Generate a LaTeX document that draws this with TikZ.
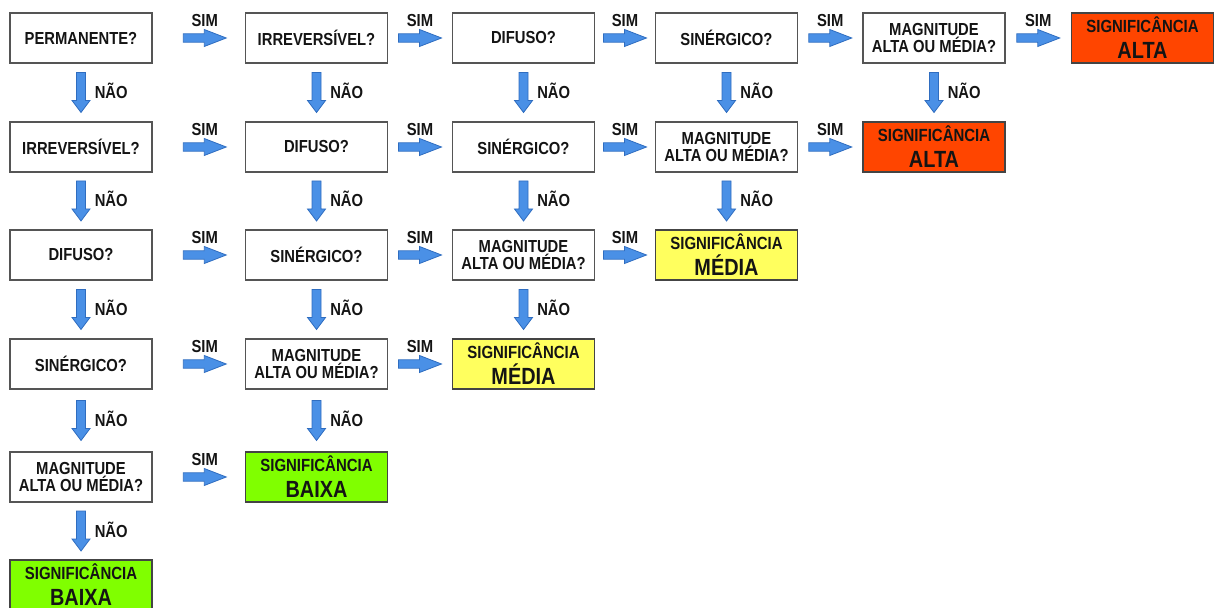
\documentclass[tikz,border=0pt]{standalone}
\usepackage{fontspec}
\newfontfamily\arl[FakeStretch=0.85]{Liberation Sans}
\usetikzlibrary{calc}
\definecolor{arrfill}{HTML}{4A90E6}
\definecolor{arrline}{HTML}{2F6DC0}
\definecolor{altared}{HTML}{FF4500}
\definecolor{medyel}{HTML}{FFFF5E}
\definecolor{baixgreen}{HTML}{80FF00}
\definecolor{boxline}{HTML}{555555}
\definecolor{txt}{HTML}{141414}
\tikzset{
  qbox/.style={draw=boxline, line width=0.6pt, fill=white, minimum width=71pt, minimum height=25pt,
    inner sep=0pt, align=center, text=txt, font=\arl\bfseries\fontsize{8.7}{7.6}\selectfont},
  sbox/.style={draw=boxline!80!black, line width=0.6pt, fill=#1, minimum width=71pt, minimum height=25pt,
    inner sep=0pt, align=center, text=txt, font=\arl\bfseries\fontsize{8.8}{13}\selectfont},
  arrowsty/.style={draw=arrline, fill=arrfill, line width=0.4pt, line join=miter},
  simlbl/.style={anchor=base, inner sep=0pt, text=txt, font=\arl\bfseries\fontsize{8.7}{9}\selectfont},
  naolbl/.style={anchor=base west, inner sep=0pt, text=txt, font=\arl\bfseries\fontsize{8.7}{9}\selectfont}
}
\newcommand\rarrow[3][0pt]{%
 \filldraw[arrowsty] let \p1=(#2.east), \p2=(#3.west) in
 ({(\x1+\x2)/2+#1-10.75pt},{\y1+2.1pt}) -- ({(\x1+\x2)/2+#1-0.25pt},{\y1+2.1pt}) --
 ({(\x1+\x2)/2+#1-0.25pt},{\y1+4.25pt}) -- ({(\x1+\x2)/2+#1+10.75pt},\y1) --
 ({(\x1+\x2)/2+#1-0.25pt},{\y1-4.25pt}) -- ({(\x1+\x2)/2+#1-0.25pt},{\y1-2.1pt}) --
 ({(\x1+\x2)/2+#1-10.75pt},{\y1-2.1pt}) -- cycle
 ({(\x1+\x2)/2+#1},{\y1+5.5pt}) node[simlbl]{SIM};}
\newcommand\darrow[2]{%
 \filldraw[arrowsty] let \p1=(#1.south), \p2=(#2.north) in
 ({\x1-2.25pt},{(\y1+\y2)/2+10pt}) -- ({\x1-2.25pt},{(\y1+\y2)/2-4pt}) --
 ({\x1-4.5pt},{(\y1+\y2)/2-4pt}) -- (\x1,{(\y1+\y2)/2-10pt}) --
 ({\x1+4.5pt},{(\y1+\y2)/2-4pt}) -- ({\x1+2.25pt},{(\y1+\y2)/2-4pt}) --
 ({\x1+2.25pt},{(\y1+\y2)/2+10pt}) -- cycle
 ({\x1+6.7pt},{(\y1+\y2)/2-3pt}) node[naolbl]{NÃO};}
\newcommand\magtxt{MAGNITUDE\\ALTA OU MÉDIA?}
\newcommand\sigtxt[1]{SIGNIFICÂNCIA\\{\fontsize{11.7}{13}\selectfont #1}}
\begin{document}
\begin{tikzpicture}[x=0.5pt, y=-0.5pt]
\useasboundingbox (0,0) rectangle (1214,608);
% column 1
\node[qbox] (a1) at (81,38) {PERMANENTE?};
\node[qbox] (a2) at (81,147) {IRREVERSÍVEL?};
\node[qbox] (a3) at (81,255) {DIFUSO?};
\node[qbox] (a4) at (81,364) {SINÉRGICO?};
\node[qbox] (a5) at (81,477) {\magtxt};
\node[sbox=baixgreen] (a6) at (81,585) {\sigtxt{BAIXA}};
% column 2
\node[qbox] (b1) at (316.5,38) {IRREVERSÍVEL?};
\node[qbox] (b2) at (316.5,147) {DIFUSO?};
\node[qbox] (b3) at (316.5,255) {SINÉRGICO?};
\node[qbox] (b4) at (316.5,364) {\magtxt};
\node[sbox=baixgreen] (b5) at (316.5,477) {\sigtxt{BAIXA}};
% column 3
\node[qbox] (c1) at (523.5,38) {DIFUSO?};
\node[qbox] (c2) at (523.5,147) {SINÉRGICO?};
\node[qbox] (c3) at (523.5,255) {\magtxt};
\node[sbox=medyel] (c4) at (523.5,364) {\sigtxt{MÉDIA}};
% column 4
\node[qbox] (d1) at (726.5,38) {SINÉRGICO?};
\node[qbox] (d2) at (726.5,147) {\magtxt};
\node[sbox=medyel] (d3) at (726.5,255) {\sigtxt{MÉDIA}};
% column 5
\node[qbox] (e1) at (934,38) {\magtxt};
\node[sbox=altared] (e2) at (934,147) {\sigtxt{ALTA}};
% column 6
\node[sbox=altared] (f1) at (1142.5,38) {\sigtxt{ALTA}};
% down arrows
\darrow{a1}{a2}\darrow{a2}{a3}\darrow{a3}{a4}\darrow{a4}{a5}\darrow{a5}{a6}
\darrow{b1}{b2}\darrow{b2}{b3}\darrow{b3}{b4}\darrow{b4}{b5}
\darrow{c1}{c2}\darrow{c2}{c3}\darrow{c3}{c4}
\darrow{d1}{d2}\darrow{d2}{d3}
\darrow{e1}{e2}
% right arrows
\rarrow[3pt]{a1}{b1}\rarrow[3pt]{a2}{b2}\rarrow[3pt]{a3}{b3}\rarrow[3pt]{a4}{b4}\rarrow[3pt]{a5}{b5}
\rarrow{b1}{c1}\rarrow{b2}{c2}\rarrow{b3}{c3}\rarrow{b4}{c4}
\rarrow{c1}{d1}\rarrow{c2}{d2}\rarrow{c3}{d3}
\rarrow{d1}{e1}\rarrow{d2}{e2}
\rarrow{e1}{f1}
\end{tikzpicture}
\end{document}
